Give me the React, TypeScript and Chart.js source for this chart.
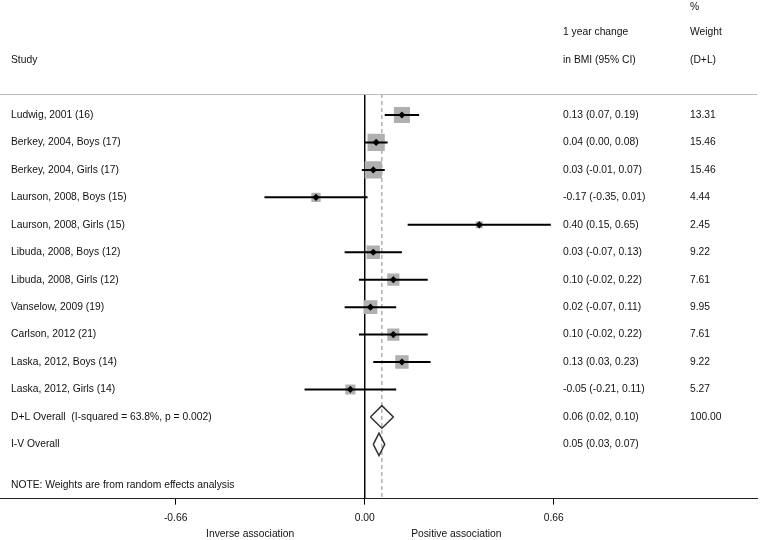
import React, { useEffect, useRef } from "react";
import { Chart, registerables } from "chart.js";

Chart.register(...registerables);

const studies = [
  "Ludwig, 2001 (16)",
  "Berkey, 2004, Boys (17)",
  "Berkey, 2004, Girls (17)",
  "Laurson, 2008, Boys (15)",
  "Laurson, 2008, Girls (15)",
  "Libuda, 2008, Boys (12)",
  "Libuda, 2008, Girls (12)",
  "Vanselow, 2009 (19)",
  "Carlson, 2012 (21)",
  "Laska, 2012, Boys (14)",
  "Laska, 2012, Girls (14)",
];
const estimates = [0.13, 0.04, 0.03, -0.17, 0.4, 0.03, 0.1, 0.02, 0.1, 0.13, -0.05];
const lower = [0.07, 0.0, -0.01, -0.35, 0.15, -0.07, -0.02, -0.07, -0.02, 0.03, -0.21];
const upper = [0.19, 0.08, 0.07, 0.01, 0.65, 0.13, 0.22, 0.11, 0.22, 0.23, 0.11];
const weights = ["13.31", "15.46", "15.46", "4.44", "2.45", "9.22", "7.61", "9.95", "7.61", "9.22", "5.27"];

const overallLabels = ["D+L Overall  (I-squared = 63.8%, p = 0.002)", "I-V Overall"];
const overallEst = [0.06, 0.05];
const overallLower = [0.02, 0.03];
const overallUpper = [0.1, 0.07];
const overallWeights = ["100.00", ""];

const xTicks = [-0.66, 0, 0.66];
const note = "NOTE: Weights are from random effects analysis";
const favourLabels = ["Inverse association", "Positive association"];
const favourPositions = [-0.4, 0.32];

const fmt = (v: number) => v.toFixed(2);

export default function App() {
  const ref = useRef<HTMLCanvasElement | null>(null);

  useEffect(() => {
    if (!ref.current) return;
    const FONT = "'Liberation Sans', Arial, sans-serif";
    const FS = 10.3;
    Chart.defaults.font.family = FONT;
    Chart.defaults.font.size = FS;
    Chart.defaults.color = "#111";

    const n = studies.length;
    const ciSets = studies.map((_, i) => ({
      type: "scatter" as const,
      data: [
        { x: lower[i], y: i },
        { x: upper[i], y: i },
      ],
      showLine: true,
      borderColor: "#000",
      borderWidth: 2,
      pointRadius: 0,
      order: 1,
    }));

    const boxSet = {
      type: "scatter" as const,
      data: estimates.map((e, i) => ({ x: e, y: i })),
      pointStyle: "rect",
      pointRadius: weights.map((w) => (4.4 * Math.sqrt(parseFloat(w))) / Math.SQRT2),
      backgroundColor: "#b0b0b0",
      borderWidth: 0,
      order: 2,
    };

    const pointSet = {
      type: "scatter" as const,
      data: estimates.map((e, i) => ({ x: e, y: i })),
      pointStyle: "rectRot",
      pointRadius: 3.6,
      backgroundColor: "#000",
      borderWidth: 0,
      order: 0,
    };

    const diamondH = 0.41;
    const diamondSets = overallEst.map((e, k) => {
      const y = n + k;
      return {
        type: "scatter" as const,
        data: [
          { x: overallLower[k], y },
          { x: e, y: y - diamondH },
          { x: overallUpper[k], y },
          { x: e, y: y + diamondH },
          { x: overallLower[k], y },
        ],
        showLine: true,
        borderColor: "#333",
        borderWidth: 1.5,
        pointRadius: 0,
        order: 1,
      };
    });

    const yMin = -0.766;
    const yMax = 13.978;

    const zeroLine = {
      type: "scatter" as const,
      data: [
        { x: 0, y: yMin },
        { x: 0, y: yMax },
      ],
      showLine: true,
      borderColor: "#000",
      borderWidth: 1,
      pointRadius: 0,
      order: 3,
    };
    const overallLine = {
      type: "scatter" as const,
      data: [
        { x: overallEst[0], y: yMin },
        { x: overallEst[0], y: yMax },
      ],
      showLine: true,
      borderColor: "#888",
      borderWidth: 1,
      borderDash: [4, 3],
      pointRadius: 0,
      order: 3,
    };

    const textPlugin = {
      id: "forestText",
      afterDraw(chart: any) {
        const { ctx, chartArea, scales } = chart;
        const ys = scales.y;
        const xs = scales.x;
        ctx.save();
        ctx.font = `${FS}px ${FONT}`;
        ctx.fillStyle = "#111";
        ctx.textBaseline = "middle";
        ctx.textAlign = "left";
        // headers
        ctx.fillText("%", 690, 7);
        ctx.fillText("1 year change", 563, 32);
        ctx.fillText("Weight", 690, 32);
        ctx.fillText("Study", 11, 60);
        ctx.fillText("in BMI (95% CI)", 563, 60);
        ctx.fillText("(D+L)", 690, 60);
        // header rule
        ctx.strokeStyle = "#b8b8b8";
        ctx.lineWidth = 1;
        ctx.beginPath();
        ctx.moveTo(0, chartArea.top + 0.5);
        ctx.lineTo(chartArea.right, chartArea.top + 0.5);
        ctx.stroke();
        // rows
        studies.forEach((s, i) => {
          const y = ys.getPixelForValue(i);
          ctx.fillText(s, 11, y);
          ctx.fillText(`${fmt(estimates[i])} (${fmt(lower[i])}, ${fmt(upper[i])})`, 563, y);
          ctx.fillText(weights[i], 690, y);
        });
        overallLabels.forEach((s, k) => {
          const y = ys.getPixelForValue(n + k);
          ctx.fillText(s, 11, y);
          ctx.fillText(`${fmt(overallEst[k])} (${fmt(overallLower[k])}, ${fmt(overallUpper[k])})`, 563, y);
          if (overallWeights[k]) ctx.fillText(overallWeights[k], 690, y);
        });
        ctx.fillText(note, 11, ys.getPixelForValue(n + 2.5));
        // favour labels
        ctx.textAlign = "center";
        favourLabels.forEach((t, k) => {
          ctx.fillText(t, xs.getPixelForValue(favourPositions[k]), 534);
        });
        ctx.restore();
      },
    };

    const chart = new Chart(ref.current, {
      type: "scatter",
      data: {
        datasets: [pointSet, ...ciSets, ...diamondSets, boxSet, zeroLine, overallLine] as any,
      },
      options: {
        responsive: false,
        maintainAspectRatio: false,
        animation: false,
        events: [],
        layout: { autoPadding: false, padding: { top: 94, left: 0, right: 3, bottom: 9 } },
        plugins: { legend: { display: false }, tooltip: { enabled: false } },
        scales: {
          x: {
            type: "linear",
            min: -1.2734,
            max: 1.3698,
            afterBuildTicks: (scale: any) => {
              scale.ticks = xTicks.map((v) => ({ value: v }));
            },
            ticks: {
              color: "#111",
              font: { size: FS },
              padding: 7,
              callback: (v: any) => fmt(Number(v)),
            },
            grid: {
              drawOnChartArea: false,
              drawTicks: true,
              tickLength: 6,
              color: "#000",
            },
            border: { display: true, color: "#222", width: 1 },
          },
          y: {
            type: "linear",
            display: false,
            reverse: true,
            min: yMin,
            max: yMax,
          },
        },
      },
      plugins: [textPlugin],
    });
    return () => chart.destroy();
  }, []);

  return (
    <div style={{ position: "absolute", left: 0, top: 0, width: 760, height: 540, background: "#fff" }}>
      <canvas ref={ref} width={760} height={540} style={{ display: "block" }} />
    </div>
  );
}
